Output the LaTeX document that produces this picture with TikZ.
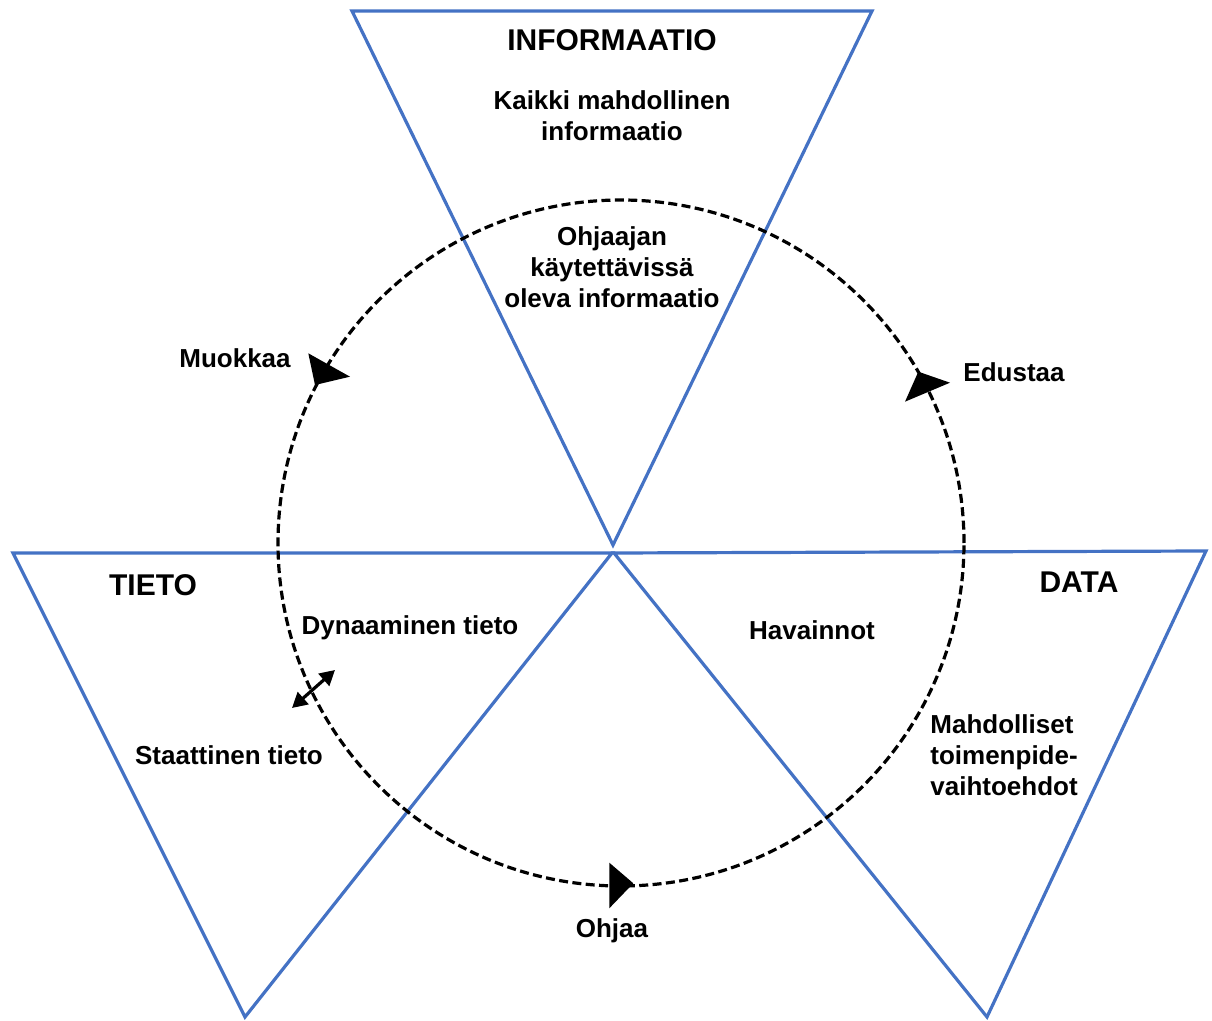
\documentclass[tikz,border=0pt]{standalone}
\usepackage{fontspec}
\setmainfont{Liberation Sans}
\usetikzlibrary{arrows.meta}
\definecolor{triblue}{HTML}{4472C4}
\begin{document}
\begin{tikzpicture}[x=0.5pt,y=-0.5pt,
  tri/.style={draw=triblue,line width=1.6pt,line join=miter},
  cyc/.style={draw=black,line width=1.6pt,dash pattern=on 4.5pt off 2.2pt},
  head/.style={fill=black},
  lbl/.style={font=\fontsize{13}{15.4}\selectfont\bfseries,inner sep=0pt,align=center},
  ttl/.style={font=\fontsize{15}{17}\selectfont\bfseries,inner sep=0pt}]
\useasboundingbox (0,0) rectangle (1212,1021);

% three inverted triangles
\draw[tri] (352,11) -- (872,11) -- (613,545) -- cycle;
\draw[tri] (13,553) -- (612,553) -- (245,1017) -- cycle;
\draw[tri] (614,553) -- (1206,551) -- (987,1017) -- cycle;

% dashed cycle
\coordinate (ctr) at (621,543);
\draw[cyc] (ctr) circle[radius=343*0.5pt];

% arrowheads on the cycle
\fill[head] (308.3,353.3) -- (350,376.7) -- (315,385) -- cycle;
\fill[head] (918.3,371.7) -- (950,382.7) -- (905,401.7) -- cycle;
\fill[head] (609.3,862.7) -- (633.3,883.3) -- (609.3,908.3) -- cycle;

% static <-> dynamic knowledge
\coordinate (stat) at (292,708);
\coordinate (dyn) at (335,670);
\draw[line width=1.6pt,{Triangle[length=7.5pt,width=8pt]}-{Triangle[length=7.5pt,width=8pt]}] (stat) -- (dyn);

% titles
\node[ttl] (info) at (612,40) {INFORMAATIO};
\node[ttl] (tieto) at (153,585) {TIETO};
\node[ttl] (data) at (1079,582) {DATA};

% labels
\node[lbl] (kaikki) at (612,116) {Kaikki mahdollinen\\informaatio};
\node[lbl] (ohjaajan) at (612,267) {Ohjaajan\\käytettävissä\\oleva informaatio};
\node[lbl] (muokkaa) at (235,358) {Muokkaa};
\node[lbl] (edustaa) at (1014,372) {Edustaa};
\node[lbl] (dynaam) at (410,628) {Dynaaminen tieto};
\node[lbl] (staatt) at (229,755) {Staattinen tieto};
\node[lbl] (havain) at (812,630) {Havainnot};
\node[lbl,align=left,anchor=west] (mahd) at (930,755) {Mahdolliset\\toimenpide-\\vaihtoehdot};
\node[lbl] (ohjaa) at (612,931) {Ohjaa};
\end{tikzpicture}
\end{document}
